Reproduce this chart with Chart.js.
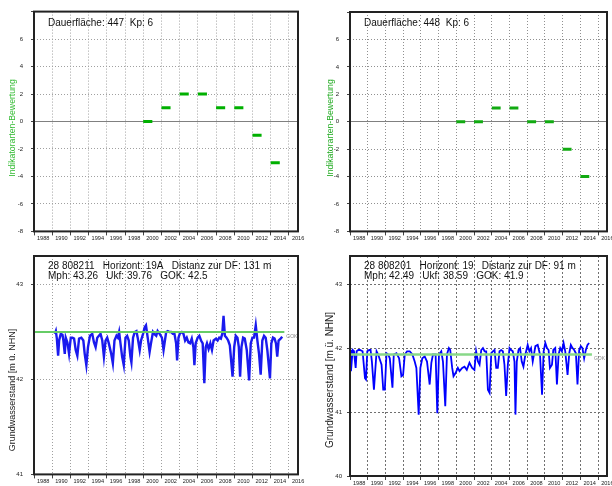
<!DOCTYPE html>
<html>
<head>
<meta charset="utf-8">
<script src="https://cdn.jsdelivr.net/npm/chart.js@4.4.0/dist/chart.umd.min.js"></script>
<style>
  body { margin: 0; background: #fff; }
  .panel { position: absolute; width: 306px; height: 243px; }
</style>
</head>
<body>
<div class="panel" style="left:0;top:0"><canvas id="c447" width="306" height="243"></canvas></div>
<div class="panel" style="left:306px;top:0"><canvas id="c448" width="306" height="243"></canvas></div>
<div class="panel" style="left:0;top:243px"><canvas id="c211" width="306" height="243"></canvas></div>
<div class="panel" style="left:306px;top:243px"><canvas id="c201" width="306" height="243"></canvas></div>
<script>
// indicator scores per survey (bar spans one year)
const scoreYears = [2000, 2002, 2004, 2006, 2008, 2010, 2012, 2014];
const score447 = [0, 1, 2, 2, 1, 1, -1, -3];
const score448 = [0, 0, 1, 1, 0, 0, -2, -4];

// groundwater well 28 808211
const dates211 = [1990.29, 1990.40, 1990.51, 1990.65, 1990.76, 1990.94, 1991.13, 1991.23, 1991.38, 1991.49,
  1991.67, 1991.85, 1992.04, 1992.22, 1992.40, 1992.58, 1992.76, 1992.95, 1993.20, 1993.42,
  1993.57, 1993.75, 1993.93, 1994.15, 1994.40, 1994.59, 1994.77, 1994.95, 1995.13, 1995.31,
  1995.50, 1995.68, 1995.86, 1996.04, 1996.22, 1996.48, 1996.66, 1996.84, 1997.06, 1997.21,
  1997.35, 1997.50, 1997.68, 1997.86, 1998.05, 1998.23, 1998.41, 1998.59, 1998.70, 1998.88,
  1999.07, 1999.25, 1999.39, 1999.61, 1999.76, 1999.98, 2000.16, 2000.30, 2000.49, 2000.70,
  2000.85, 2001.07, 2001.21, 2001.43, 2001.58, 2001.80, 2002.05, 2002.23, 2002.52, 2002.70,
  2002.89, 2003.07, 2003.25, 2003.43, 2003.61, 2003.72, 2003.87, 2004.05, 2004.23, 2004.42,
  2004.60, 2004.78, 2004.96, 2005.14, 2005.33, 2005.51, 2005.62, 2005.76, 2005.98, 2006.16,
  2006.35, 2006.53, 2006.71, 2006.86, 2007.00, 2007.18, 2007.37, 2007.55, 2007.73, 2007.99,
  2008.17, 2008.35, 2008.53, 2008.68, 2008.82, 2008.97, 2009.15, 2009.33, 2009.51, 2009.81,
  2009.99, 2010.17, 2010.35, 2010.50, 2010.64, 2010.79, 2010.97, 2011.15, 2011.37, 2011.63,
  2011.81, 2011.99, 2012.17, 2012.36, 2012.54, 2012.72, 2012.90, 2013.08, 2013.27, 2013.45,
  2013.63, 2013.92, 2014.07, 2014.25, 2014.43, 2014.58, 2014.72, 2014.87, 2015.09, 2015.27];
const level211 = [42.48, 42.51, 42.43, 42.25, 42.41, 42.48, 42.47, 42.41, 42.27, 42.44,
  42.39, 42.27, 42.44, 42.44, 42.43, 42.31, 42.25, 42.43, 42.44, 42.41,
  42.27, 42.15, 42.34, 42.46, 42.48, 42.39, 42.34, 42.44, 42.46, 42.48,
  42.41, 42.24, 42.41, 42.44, 42.38, 42.27, 42.17, 42.41, 42.46, 42.44,
  42.50, 42.38, 42.24, 42.15, 42.44, 42.46, 42.41, 42.24, 42.18, 42.44,
  42.50, 42.51, 42.44, 42.31, 42.41, 42.48, 42.55, 42.57, 42.44, 42.29,
  42.38, 42.50, 42.48, 42.46, 42.51, 42.48, 42.44, 42.31, 42.50, 42.51,
  42.50, 42.50, 42.48, 42.48, 42.38, 42.20, 42.44, 42.49, 42.50, 42.48,
  42.41, 42.44, 42.39, 42.38, 42.43, 42.34, 42.15, 42.38, 42.44, 42.46,
  42.41, 42.38, 41.96, 42.34, 42.38, 42.32, 42.38, 42.31, 42.41, 42.43,
  42.41, 42.44, 42.43, 42.48, 42.67, 42.46, 42.44, 42.41, 42.36, 42.03,
  42.34, 42.46, 42.44, 42.34, 42.03, 42.34, 42.44, 42.43, 42.31, 41.99,
  42.38, 42.44, 42.44, 42.57, 42.41, 42.27, 42.05, 42.41, 42.46, 42.44,
  42.31, 42.01, 42.38, 42.44, 42.43, 42.38, 42.24, 42.41, 42.43, 42.45];
const gok211 = 42.5;
const gokEnd211 = 2015.5;

// groundwater well 28 808201
const dates201 = [1988.00, 1988.11, 1988.30, 1988.45, 1988.56, 1988.64, 1988.75, 1988.94, 1989.12, 1989.42,
  1989.69, 1989.80, 1989.95, 1990.17, 1990.32, 1990.47, 1990.70, 1991.00, 1991.18, 1991.56,
  1991.75, 1991.93, 1992.12, 1992.31, 1992.49, 1992.79, 1992.94, 1993.24, 1993.54, 1993.80,
  1993.99, 1994.18, 1994.44, 1994.74, 1995.04, 1995.30, 1995.49, 1995.75, 1995.94, 1996.16,
  1996.43, 1996.69, 1996.99, 1997.18, 1997.36, 1997.66, 1997.85, 1998.04, 1998.30, 1998.49,
  1998.75, 1998.94, 1999.16, 1999.31, 1999.53, 1999.68, 1999.91, 2000.17, 2000.36, 2000.66,
  2000.92, 2001.18, 2001.48, 2001.78, 2002.04, 2002.23, 2002.44, 2002.62, 2002.81, 2003.00,
  2003.19, 2003.37, 2003.56, 2003.75, 2003.94, 2004.12, 2004.31, 2004.50, 2004.68, 2004.87,
  2005.06, 2005.25, 2005.43, 2005.62, 2005.81, 2006.00, 2006.18, 2006.37, 2006.56, 2006.67,
  2006.82, 2007.01, 2007.19, 2007.38, 2007.57, 2007.79, 2008.05, 2008.24, 2008.43, 2008.62,
  2008.92, 2009.18, 2009.44, 2009.67, 2009.85, 2010.04, 2010.23, 2010.41, 2010.56, 2010.79,
  2010.94, 2011.16, 2011.35, 2011.54, 2011.72, 2011.91, 2012.10, 2012.29, 2012.55, 2012.74,
  2012.92, 2013.11, 2013.30, 2013.49, 2013.67, 2013.86, 2014.05, 2014.23, 2014.42, 2014.61,
  2014.80, 2014.98];
const level201 = [41.97, 41.64, 41.97, 41.95, 41.79, 41.69, 41.95, 41.97, 41.97, 41.95,
  41.53, 41.51, 41.95, 41.97, 41.97, 41.79, 41.35, 41.95, 41.90, 41.74,
  41.35, 41.35, 41.92, 41.90, 41.84, 41.38, 41.90, 41.92, 41.84, 41.56,
  41.58, 41.90, 41.95, 41.95, 41.90, 41.79, 41.69, 40.96, 41.69, 41.84,
  41.87, 41.79, 41.43, 41.77, 41.90, 41.90, 40.98, 41.90, 41.95, 41.79,
  41.09, 41.90, 42.00, 41.97, 41.69, 41.56, 41.61, 41.69, 41.64, 41.69,
  41.71, 41.66, 41.77, 41.69, 41.66, 41.95, 41.79, 41.74, 41.97, 42.00,
  41.95, 41.95, 41.35, 41.30, 41.92, 41.95, 41.97, 41.69, 41.69, 41.95,
  41.97, 41.95, 41.74, 41.25, 41.74, 42.00, 41.97, 41.95, 41.79, 40.96,
  41.79, 41.97, 42.00, 41.79, 41.71, 41.90, 42.05, 41.95, 42.00, 41.79,
  42.03, 42.05, 41.90, 41.27, 41.95, 42.08, 42.00, 41.97, 41.69, 41.74,
  41.97, 42.00, 41.43, 41.90, 42.00, 41.95, 42.08, 41.95, 41.58, 41.92,
  42.05, 42.00, 41.97, 41.92, 41.43, 41.97, 42.03, 42.00, 41.84, 41.97,
  42.05, 42.08];
const gok201 = 41.9;
const gokEnd201 = 2015.3;

Chart.defaults.font.family = '"Liberation Sans", Arial, sans-serif';

function scoreLine(years, scores) {
    const pts = [];
    years.forEach((yr, i) => {
        pts.push({ x: yr, y: scores[i] }, { x: yr + 1, y: scores[i] }, { x: yr + 1, y: null });
    });
    return pts;
}

function series(dates, levels) {
    return dates.map((d, i) => ({ x: d, y: levels[i] }));
}

// frame, in-plot header, rotated y title and GOK tag
const panelDecor = {
    id: 'panelDecor',
    afterDatasetsDraw(chart, args, opts) {
        const { ctx, chartArea: a, scales } = chart;
        ctx.save();
        ctx.strokeStyle = '#222';
        ctx.lineWidth = 2;
        ctx.strokeRect(a.left, a.top, a.right - a.left, a.bottom - a.top);

        ctx.fillStyle = '#111';
        ctx.font = '10px "Liberation Sans", Arial, sans-serif';
        ctx.textBaseline = 'middle';
        ctx.textAlign = 'left';
        opts.lines.forEach((t, i) => ctx.fillText(t, a.left + 14, a.top + opts.lineTop + i * 10));

        if (opts.gok !== undefined) {
            ctx.font = '5px "Liberation Sans", Arial, sans-serif';
            ctx.fillStyle = '#888';
            ctx.fillText('GOK', scales.x.getPixelForValue(opts.gokEnd) + 2, scales.y.getPixelForValue(opts.gok) + 4.5);
        }

        ctx.translate(opts.titleX, opts.titleY);
        ctx.rotate(-Math.PI / 2);
        ctx.textAlign = 'center';
        ctx.fillStyle = opts.titleColor;
        ctx.font = opts.titleSize + 'px "Liberation Sans", Arial, sans-serif';
        ctx.fillText(opts.title, 0, 0);
        ctx.restore();
    }
};

function makeChart(id, p) {
    new Chart(document.getElementById(id), {
        type: 'line',
        data: { datasets: p.datasets },
        options: {
            responsive: false,
            animation: false,
            devicePixelRatio: 1,
            layout: { padding: { top: p.area.top, right: 306 - p.area.right, left: 0, bottom: 0 } },
            plugins: {
                legend: { display: false },
                tooltip: { enabled: false },
                panelDecor: p.decor
            },
            scales: {
                x: {
                    type: 'linear',
                    min: 1988,
                    max: 2017,
                    afterFit: s => { s.height = 243 - p.area.bottom; s.paddingLeft = 0; s.paddingRight = 0; },
                    ticks: {
                        stepSize: 2, includeBounds: false, autoSkip: false,
                        maxRotation: 0, minRotation: 0, align: 'start', labelOffset: 3, padding: 0,
                        color: '#222', font: { size: 5.6 },
                        callback: v => String(v)
                    },
                    grid: { color: p.gridColor, tickColor: '#444', tickLength: 4, tickBorderDash: [] },
                    border: { display: false, dash: p.gridDash }
                },
                y: {
                    min: p.yMin,
                    max: p.yMax,
                    afterFit: s => { s.width = p.area.left; },
                    ticks: {
                        stepSize: p.yStep, includeBounds: false, padding: p.yPad,
                        color: '#222', font: { size: 6 },
                        callback: v => (v === p.yMax ? '' : String(v))
                    },
                    grid: {
                        color: c => (p.zeroLine && c.tick && c.tick.value === 0 ? '#808080' : p.gridColor),
                        tickColor: '#444', tickLength: 3, tickBorderDash: []
                    },
                    border: {
                        display: false,
                        dash: c => (p.zeroLine && c.tick && c.tick.value === 0 ? [] : p.gridDash)
                    }
                }
            }
        },
        plugins: [panelDecor]
    });
}

makeChart('c447', {
    area: { left: 34, top: 11, right: 298, bottom: 232 },
    yMin: -8, yMax: 8, yStep: 2, yPad: 8, zeroLine: true,
    gridColor: '#a0a0a0', gridDash: [1, 2],
    datasets: [{
        data: scoreLine(scoreYears, score447),
        borderColor: '#00b000', borderWidth: 3, pointRadius: 0, spanGaps: false, borderCapStyle: 'butt'
    }],
    decor: {
        lines: ['Dauerfläche: 447  Kp: 6'], lineTop: 12,
        title: 'Indikatorarten-Bewertung', titleColor: '#33bb33', titleSize: 8.7, titleX: 13, titleY: 128
    }
});

makeChart('c448', {
    area: { left: 44, top: 12, right: 301, bottom: 233 },
    yMin: -8, yMax: 8, yStep: 2, yPad: 8, zeroLine: true,
    gridColor: '#909090', gridDash: [1, 2],
    datasets: [{
        data: scoreLine(scoreYears, score448),
        borderColor: '#11aa11', borderWidth: 3, pointRadius: 0, spanGaps: false, borderCapStyle: 'butt'
    }],
    decor: {
        lines: ['Dauerfläche: 448  Kp: 6'], lineTop: 11,
        title: 'Indikatorarten-Bewertung', titleColor: '#22aa22', titleSize: 8.7, titleX: 25, titleY: 128
    }
});

makeChart('c211', {
    area: { left: 34, top: 13, right: 298, bottom: 232 },
    yMin: 41, yMax: 43.3, yStep: 1, yPad: 8, zeroLine: false,
    gridColor: '#a0a0a0', gridDash: [1, 2],
    datasets: [{
        data: [{ x: 1988, y: gok211 }, { x: gokEnd211, y: gok211 }],
        borderColor: '#66cc66', borderWidth: 2, pointRadius: 0
    }, {
        data: series(dates211, level211),
        borderColor: '#1a1aee', borderWidth: 2.4, pointRadius: 0, tension: 0
    }],
    decor: {
        lines: ['28 808211   Horizont: 19A   Distanz zur DF: 131 m', 'Mph: 43.26   Ukf: 39.76   GOK: 42.5'], lineTop: 10,
        title: 'Grundwasserstand [m ü. NHN]', titleColor: '#222', titleSize: 9, titleX: 13, titleY: 147,
        gok: gok211, gokEnd: gokEnd211
    }
});

makeChart('c201', {
    area: { left: 44, top: 13, right: 301, bottom: 233 },
    yMin: 40, yMax: 43.44, yStep: 1, yPad: 5, zeroLine: false,
    gridColor: '#707070', gridDash: [2, 2],
    datasets: [{
        data: [{ x: 1988, y: gok201 }, { x: gokEnd201, y: gok201 }],
        borderColor: '#88d888', borderWidth: 2.5, pointRadius: 0
    }, {
        data: series(dates201, level201),
        borderColor: '#0000ff', borderWidth: 1.8, pointRadius: 0, tension: 0
    }],
    decor: {
        lines: ['28 808201   Horizont: 19   Distanz zur DF: 91 m', 'Mph: 42.49   Ukf: 38.59   GOK: 41.9'], lineTop: 10,
        title: 'Grundwasserstand [m ü. NHN]', titleColor: '#222', titleSize: 10, titleX: 24, titleY: 137,
        gok: gok201, gokEnd: gokEnd201
    }
});
</script>
</body>
</html>
